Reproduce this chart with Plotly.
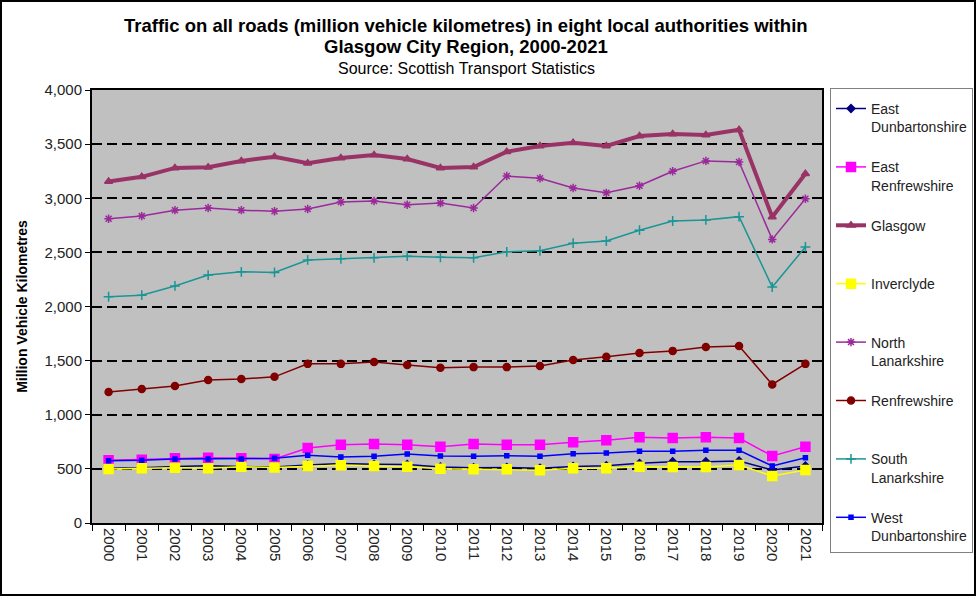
import plotly.graph_objects as go

years = [str(y) for y in range(2000, 2022)]

east_dunbartonshire = [505, 510, 523, 530, 522, 518, 536, 550, 543, 541, 517, 510, 513, 505, 522, 530, 551, 566, 566, 572, 490, 527]
east_renfrewshire = [579, 585, 598, 603, 598, 591, 693, 723, 730, 723, 705, 730, 723, 723, 745, 764, 791, 785, 791, 785, 619, 705]
glasgow = [3155, 3198, 3280, 3286, 3344, 3384, 3323, 3372, 3400, 3363, 3280, 3289, 3430, 3483, 3512, 3483, 3575, 3594, 3584, 3632, 2827, 3226]
inverclyde = [499, 505, 511, 505, 520, 513, 526, 533, 526, 520, 502, 496, 496, 487, 505, 505, 520, 517, 517, 536, 434, 490]
north_lanarkshire = [2810, 2835, 2890, 2910, 2890, 2880, 2900, 2965, 2975, 2940, 2955, 2910, 3205, 3185, 3095, 3050, 3115, 3250, 3345, 3335, 2620, 2995]
renfrewshire = [1210, 1237, 1265, 1320, 1330, 1350, 1470, 1470, 1487, 1460, 1435, 1440, 1440, 1450, 1505, 1535, 1570, 1590, 1625, 1635, 1280, 1470]
south_lanarkshire = [2090, 2105, 2190, 2290, 2320, 2315, 2430, 2440, 2450, 2465, 2455, 2450, 2505, 2515, 2585, 2605, 2705, 2790, 2800, 2830, 2180, 2550]
west_dunbartonshire = [576, 579, 591, 591, 591, 598, 625, 610, 616, 637, 619, 616, 622, 616, 640, 647, 662, 662, 671, 671, 527, 603]

FONT = "Arial, Liberation Sans, sans-serif"
W, H = 976, 596
L, R, T, B = 92, 154, 90, 73
PW, PH = W - L - R, H - T - B

fig = go.Figure()

series = [
    ("East<br>Dunbartonshire", east_dunbartonshire, "#000080", 1.5, "diamond", 6),
    ("East<br>Renfrewshire", east_renfrewshire, "#FF00FF", 1.5, "square", 9),
    ("Glasgow<br> ", glasgow, "#993366", 4, "triangle-up", 7),
    ("Inverclyde<br> ", inverclyde, "#FFFF00", 1.5, "square", 9),
    ("North<br>Lanarkshire", north_lanarkshire, "#9A2A9A", 1.5, "asterisk-open", 7),
    ("Renfrewshire<br> ", renfrewshire, "#800000", 1.5, "circle", 7),
    ("South<br>Lanarkshire", south_lanarkshire, "#1A9595", 1.5, "cross-thin-open", 7),
    ("West<br>Dunbartonshire", west_dunbartonshire, "#0000FF", 1.5, "square", 4),
]

for i, (name, vals, col, lw, sym, ms) in enumerate(series):
    fig.add_trace(go.Scatter(
        x=years, y=vals, name=name, mode="lines+markers",
        line=dict(color=col, width=lw),
        marker=dict(symbol=sym, size=ms, color=col, line=dict(color=col, width=1.5)),
        legendgroup="g%d" % i,
    ))

def py(pix):
    # pixel row -> paper y
    return 1 + (T - pix) / PH

title_lines = [
    ("<b>Traffic on all roads (million vehicle kilometres) in eight local authorities within</b>", 18.5, 25),
    ("<b>Glasgow City Region, 2000-2021</b>", 18.5, 47),
    ("Source: Scottish Transport Statistics", 16, 68),
]
for txt, sz, yy in title_lines:
    fig.add_annotation(text=txt, xref="paper", yref="paper",
                       x=(466 - L) / PW, y=py(yy), xanchor="center", yanchor="middle",
                       showarrow=False, font=dict(family=FONT, size=sz, color="black"))

fig.update_layout(
    width=W, height=H,
    margin=dict(l=L, r=R, t=T, b=B, autoexpand=False),
    paper_bgcolor="white",
    plot_bgcolor="#C0C0C0",
    font=dict(family=FONT, size=15, color="#222222"),
    legend=dict(
        x=1 + 8 / PW, xanchor="left", y=py(88), yanchor="top",
        bgcolor="white", bordercolor="#808080", borderwidth=1,
        font=dict(family=FONT, size=14, color="#222222"),
        valign="top", tracegroupgap=19, itemwidth=30,
        maxheight=480,
        title=dict(text=" ", font=dict(size=3)),
    ),
    showlegend=True,
)

fig.update_xaxes(
    type="category", range=[-0.5, 21.5], tickson="boundaries",
    ticks="outside", ticklen=6, tickcolor="black", tickangle=90,
    showline=True, linecolor="black", linewidth=2, mirror=True,
    showgrid=False, tickfont=dict(size=15),
)
fig.update_yaxes(
    range=[0, 4000], dtick=500, tickformat=",d",
    ticks="outside", ticklen=5, tickcolor="black",
    showline=True, linecolor="black", linewidth=2, mirror=True,
    showgrid=True, gridcolor="black", gridwidth=2, griddash="10px,5px",
    zeroline=False, tickfont=dict(size=15),
    title=dict(text="<b>Million Vehicle Kilometres</b>", font=dict(size=14, color="black"), standoff=14),
)

# outer frame
fig.add_shape(type="rect", xref="paper", yref="paper",
              x0=(1 - L) / PW, x1=1 + (R - 1) / PW, y0=-(B - 1) / PH, y1=1 + (T - 1) / PH,
              line=dict(color="black", width=2), layer="below")

fig.write_html("out.html", config={"displayModeBar": False},
               post_script="document.body.style.margin='0';")
